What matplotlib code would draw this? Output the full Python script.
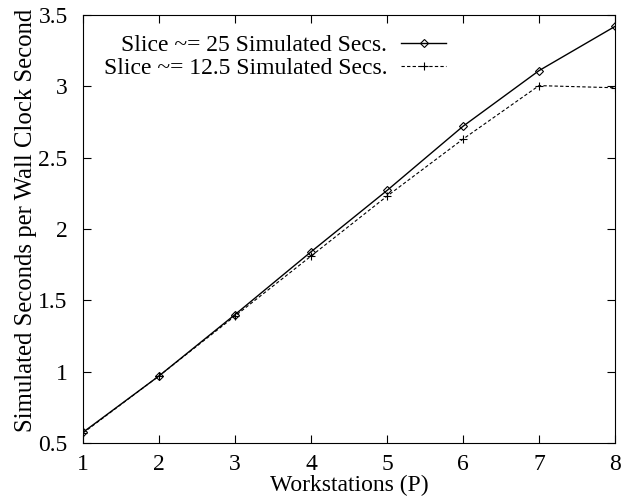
import matplotlib
matplotlib.use("Agg")
import matplotlib.pyplot as plt

workstations = [1, 2, 3, 4, 5, 6, 7, 8]
slice_25 = [0.575, 0.97, 1.40, 1.84, 2.27, 2.72, 3.11, 3.42]
slice_12_5 = [0.57, 0.97, 1.39, 1.81, 2.23, 2.63, 3.005, 2.99]
label_25 = "Slice ~= 25 Simulated Secs."
label_12_5 = "Slice ~= 12.5 Simulated Secs."
xticks = [1, 2, 3, 4, 5, 6, 7, 8]
yticks = [0.5, 1, 1.5, 2, 2.5, 3, 3.5]
ytick_labels = ["0.5", "1", "1.5", "2", "2.5", "3", "3.5"]

plt.rcParams['font.family'] = ['Liberation Serif', 'DejaVu Serif']
fig = plt.figure(figsize=(6.31, 5.01), dpi=100)
ax = fig.add_axes([83/631, 58/501, (615-83)/631, (443-15)/501])

ax.plot(workstations, slice_25, color='black', lw=1.0, marker='D', markersize=4,
        markerfacecolor='none', markeredgewidth=0.8, label=label_25)
ax.plot(workstations, slice_12_5, color='black', lw=0.8, ls=(0, (3, 2)), marker='+',
        markersize=6, markeredgewidth=0.8, label=label_12_5)

ax.set_xlim(1, 8)
ax.set_ylim(0.5, 3.5)
ax.set_xticks(xticks)
ax.set_yticks(yticks)
ax.set_yticklabels(ytick_labels)
ax.tick_params(direction='in', top=True, right=True, length=6, width=0.8,
               labelsize=17, pad=8)
ax.tick_params(axis='y', pad=11)
ax.set_xlabel("Workstations (P)", fontsize=17, labelpad=0)
ax.set_ylabel("Simulated Seconds per Wall Clock Second", fontsize=17.8)
ax.yaxis.set_label_coords(-0.087, 0.521)
for s in ax.spines.values():
    s.set_linewidth(0.8)

leg = ax.legend(loc='upper right', bbox_to_anchor=(0.683, 0.955), markerfirst=False,
                frameon=False, fontsize=17, handlelength=1.9, handletextpad=0.6,
                labelspacing=0.08, borderaxespad=0.0, borderpad=0.0)

fig.savefig("out.png", dpi=100)
